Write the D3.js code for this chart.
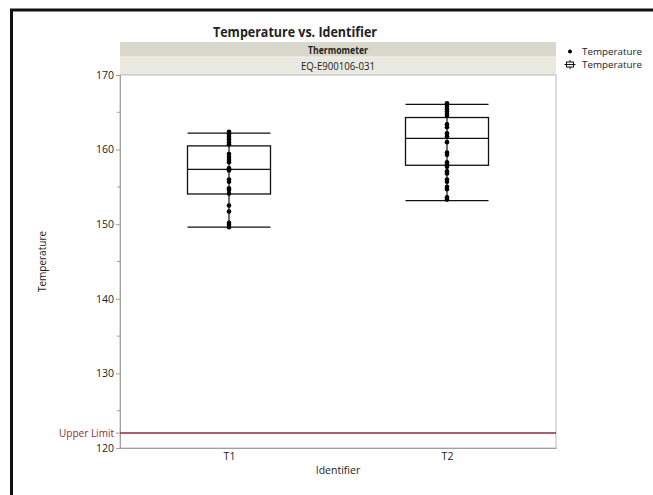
<!DOCTYPE html>
<html>
<head>
<meta charset="utf-8">
<style>
body { margin: 0; background: white; }
text { font-family: "Open Sans", "Noto Sans", sans-serif; fill: #222; }
.axis path, .axis line { stroke: #a0a0a0; }
</style>
</head>
<body>
<script src="https://cdn.jsdelivr.net/npm/d3@7"></script>
<script>
var width = 653,
    height = 495;

// data
var categories = ["T1", "T2"];
var t1Values = [162.4, 162.2, 162.0, 161.7, 161.4, 161.0, 160.7, 159.4, 159.0, 158.6, 158.3,
                157.5, 157.2, 156.0, 155.7, 154.8, 154.6, 154.1, 152.5, 151.7, 150.2, 149.9, 149.6];
var t2Values = [166.2, 166.0, 165.7, 165.4, 165.1, 164.8, 164.5, 163.4, 163.0, 162.2, 161.8,
                161.0, 159.6, 159.3, 158.3, 158.0, 157.7, 157.1, 156.8, 156.0, 155.7, 155.0, 154.7, 153.6, 153.3];
// box plot summaries (per category): whisker low, q1, median, q3, whisker high
var whiskerLow = [149.6, 153.15];
var q1 = [154.05, 157.9];
var median = [157.35, 161.5];
var q3 = [160.5, 164.3];
var whiskerHigh = [162.2, 166.05];
var yTicks = [120, 130, 140, 150, 160, 170];
var yMinorTicks = [125, 135, 145, 155, 165];
var upperLimit = 122;
var legendLabels = ["Temperature", "Temperature"];

var svg = d3.select("body").append("svg")
    .attr("width", width)
    .attr("height", height);

// outer frame (left + top visible)
svg.append("path")
    .attr("d", "M11.5,495 L11.5,10 L653,10")
    .attr("fill", "none")
    .attr("stroke", "#111")
    .attr("stroke-width", 3);

var plotLeft = 120, plotRight = 556, plotTop = 75, plotBottom = 448;

var x = d3.scalePoint()
    .domain(categories)
    .range([plotLeft, plotRight])
    .padding(0.5);

var y = d3.scaleLinear()
    .domain([120, 170])
    .range([plotBottom, plotTop]);

// header bands
svg.append("rect").attr("x", plotLeft).attr("y", 42).attr("width", plotRight - plotLeft).attr("height", 15)
    .attr("fill", "#d8d8cc");
svg.append("rect").attr("x", plotLeft).attr("y", 57).attr("width", plotRight - plotLeft).attr("height", 18)
    .attr("fill", "#e9e9e0");
svg.append("line").attr("x1", plotLeft).attr("x2", plotRight).attr("y1", 57).attr("y2", 57)
    .attr("stroke", "#f4f4ee");

svg.append("text")
    .attr("x", (plotLeft + plotRight) / 2).attr("y", 53.5)
    .attr("text-anchor", "middle")
    .style("font-size", "10.5px").style("font-weight", "bold")
    .attr("textLength", 60).attr("lengthAdjust", "spacingAndGlyphs")
    .text("Thermometer");
svg.append("text")
    .attr("x", (plotLeft + plotRight) / 2).attr("y", 69.5)
    .attr("text-anchor", "middle")
    .style("font-size", "10.5px")
    .attr("textLength", 74).attr("lengthAdjust", "spacingAndGlyphs")
    .text("EQ-E900106-031");

// title
svg.append("text")
    .attr("x", 295).attr("y", 36.5)
    .attr("text-anchor", "middle")
    .style("font-size", "14px").style("font-weight", "bold")
    .attr("textLength", 164).attr("lengthAdjust", "spacingAndGlyphs")
    .text("Temperature vs. Identifier");

// plot frame
svg.append("rect")
    .attr("x", plotLeft).attr("y", plotTop)
    .attr("width", plotRight - plotLeft).attr("height", plotBottom - plotTop)
    .attr("fill", "none").attr("stroke", "#b8b8b8");

// y axis
var yAxis = svg.append("g").attr("class", "axis")
    .attr("transform", "translate(" + plotLeft + ",0)")
    .call(d3.axisLeft(y).tickValues(yTicks).tickSize(4).tickPadding(2).tickFormat(d3.format("d")));
yAxis.selectAll("text").style("font-size", "10.5px").style("fill", "#222");
yAxis.append("g").selectAll("line")
    .data(yMinorTicks).enter().append("line")
    .attr("x1", -3).attr("x2", 0)
    .attr("y1", function(d) { return y(d); }).attr("y2", function(d) { return y(d); })
    .attr("stroke", "#a0a0a0");

// x axis
var xAxis = svg.append("g").attr("class", "axis")
    .attr("transform", "translate(0," + plotBottom + ")")
    .call(d3.axisBottom(x).tickSize(0).tickPadding(5));
xAxis.selectAll("text").style("font-size", "10.5px").style("fill", "#222");

// axis titles
svg.append("text")
    .attr("transform", "translate(46," + ((plotTop + plotBottom) / 2) + ") rotate(-90)")
    .attr("text-anchor", "middle")
    .style("font-size", "10px")
    .text("Temperature");
svg.append("text")
    .attr("x", (plotLeft + plotRight) / 2).attr("y", 474)
    .attr("text-anchor", "middle")
    .style("font-size", "10.5px")
    .text("Identifier");

// upper limit reference line
svg.append("line")
    .attr("x1", plotLeft).attr("x2", plotRight)
    .attr("y1", y(upperLimit)).attr("y2", y(upperLimit))
    .attr("stroke", "#8c2a3e").attr("stroke-width", 1.5);
svg.append("line")
    .attr("x1", plotLeft - 4).attr("x2", plotLeft)
    .attr("y1", y(upperLimit)).attr("y2", y(upperLimit))
    .attr("stroke", "#a0a0a0");
svg.append("text")
    .attr("x", plotLeft - 6).attr("y", y(upperLimit) + 3.5)
    .attr("text-anchor", "end")
    .style("font-size", "10px").style("fill", "#8c2a3e")
    .text("Upper Limit");

// box plots
var half = 41.5;
var boxes = svg.append("g").selectAll("g")
    .data(categories).enter().append("g");

boxes.append("line")
    .attr("x1", function(d) { return x(d); }).attr("x2", function(d) { return x(d); })
    .attr("y1", function(d, i) { return y(whiskerLow[i]); })
    .attr("y2", function(d, i) { return y(whiskerHigh[i]); })
    .attr("stroke", "#111").attr("stroke-width", 1.2);
boxes.append("rect")
    .attr("x", function(d) { return x(d) - half; })
    .attr("y", function(d, i) { return y(q3[i]); })
    .attr("width", half * 2)
    .attr("height", function(d, i) { return y(q1[i]) - y(q3[i]); })
    .attr("fill", "none").attr("stroke", "#111").attr("stroke-width", 1.3);
[median, whiskerLow, whiskerHigh].forEach(function(arr) {
  boxes.append("line")
    .attr("x1", function(d) { return x(d) - half; })
    .attr("x2", function(d) { return x(d) + half; })
    .attr("y1", function(d, i) { return y(arr[i]); })
    .attr("y2", function(d, i) { return y(arr[i]); })
    .attr("stroke", "#111").attr("stroke-width", 1.3);
});

// points
var points = [];
t1Values.forEach(function(v) { points.push({cat: "T1", v: v}); });
t2Values.forEach(function(v) { points.push({cat: "T2", v: v}); });
svg.append("g").selectAll("circle")
    .data(points).enter().append("circle")
    .attr("cx", function(d) { return x(d.cat); })
    .attr("cy", function(d) { return y(d.v); })
    .attr("r", 2.3)
    .attr("fill", "#000");

// legend
var lg = svg.append("g").attr("transform", "translate(570,0)");
lg.append("circle").attr("cx", 0).attr("cy", 51.5).attr("r", 2).attr("fill", "#000");
lg.append("rect").attr("x", -3.5).attr("y", 62).attr("width", 7).attr("height", 5)
    .attr("fill", "none").attr("stroke", "#111").attr("stroke-width", 1);
lg.append("line").attr("x1", -5.5).attr("x2", 5.5).attr("y1", 64.5).attr("y2", 64.5)
    .attr("stroke", "#111").attr("stroke-width", 1);
lg.append("line").attr("x1", 0).attr("x2", 0).attr("y1", 60).attr("y2", 62)
    .attr("stroke", "#111");
lg.append("line").attr("x1", 0).attr("x2", 0).attr("y1", 67).attr("y2", 69)
    .attr("stroke", "#111");
lg.selectAll("text.lbl")
    .data(legendLabels).enter().append("text")
    .attr("class", "lbl")
    .attr("x", 12)
    .attr("y", function(d, i) { return 54.5 + i * 13; })
    .style("font-size", "9px")
    .attr("textLength", 60).attr("lengthAdjust", "spacingAndGlyphs")
    .text(function(d) { return d; });
</script>
</body>
</html>
